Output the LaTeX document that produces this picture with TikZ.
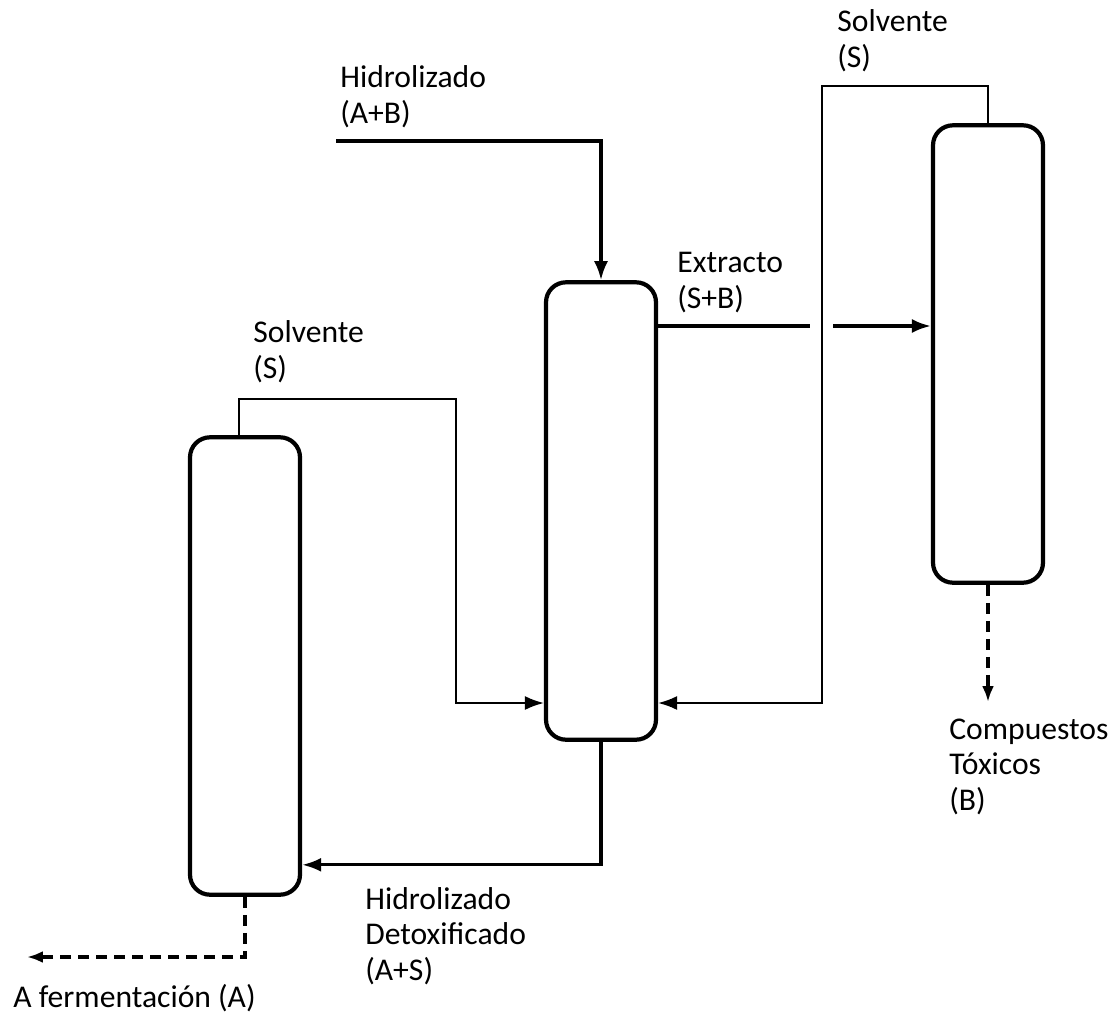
\documentclass[tikz,border=0pt]{standalone}
\usepackage{fontspec}
\setmainfont{Carlito}
\usetikzlibrary{arrows.meta}

\begin{document}
\begin{tikzpicture}[x=0.02cm, y=-0.02cm,
    column/.style={draw, line width=2.4pt, rounded corners=0.4cm, inner sep=0pt,
                   minimum width=2.2cm, minimum height=9.15cm},
    flow/.style={line width=1.8pt, -{Latex[length=0.38cm, width=0.28cm]}},
    solv/.style={line width=1.1pt, -{Latex[length=0.38cm, width=0.28cm]}},
    waste/.style={line width=1.8pt, dash pattern=on 0.22cm off 0.14cm,
                  -{Latex[length=0.32cm, width=0.24cm]}},
    lbl/.style={anchor=base west, inner sep=0pt, align=left,
                font=\fontsize{18}{20}\selectfont}]
    \useasboundingbox (0,0) rectangle (1113,1014);
    % columns
    \node[column] (left) at (245,666) {};
    \node[column] (mid) at (601,511) {};
    \node[column] (right) at (988,354) {};
    % labels (anchored at the last line)
    \node[lbl] (feedlbl) at (340,123) {Hidrolizado\\(A+B)};
    \node[lbl] (solvLlbl) at (253,378) {Solvente\\(S)};
    \node[lbl] (extrlbl) at (677,308) {Extracto\\(S+B)};
    \node[lbl] (solvRlbl) at (837,67) {Solvente\\(S)};
    \node[lbl] (detoxlbl) at (365,980) {Hidrolizado\\Detoxificado\\(A+S)};
    \node[lbl] (toxlbl) at (949,810) {Compuestos\\Tóxicos\\(B)};
    \node[lbl] (fermlbl) at (13,1007) {A fermentación (A)};
    % free ends and bends
    \coordinate (feedin) at (336,141);
    \coordinate (bendL) at (456,703);
    \coordinate (bendR) at (822,703);
    \coordinate (gapL) at (810,326);
    \coordinate (gapR) at (833,326);
    \coordinate (toxout) at (988,702);
    \coordinate (fermout) at (27,957);
    % streams
    \draw[flow] (feedin) -| (mid.north);
    \draw[solv] ([xshift=-0.12cm]left.north) -- ++(0,-36) -| (bendL) -- (bendL -| mid.west);
    \draw[solv] (right.north) -- ++(0,-37) -| (bendR) -- (bendR -| mid.east);
    \draw[flow, -] (mid.east |- gapL) -- (gapL);
    \draw[flow] (gapR) -- (gapR -| right.west);
    \draw[flow] (mid.south) -- ++(0,123) coordinate (ret) -- (ret -| left.east);
    \draw[waste] (right.south) -- (toxout);
    \draw[waste] (left.south) |- (fermout);
\end{tikzpicture}
\end{document}
